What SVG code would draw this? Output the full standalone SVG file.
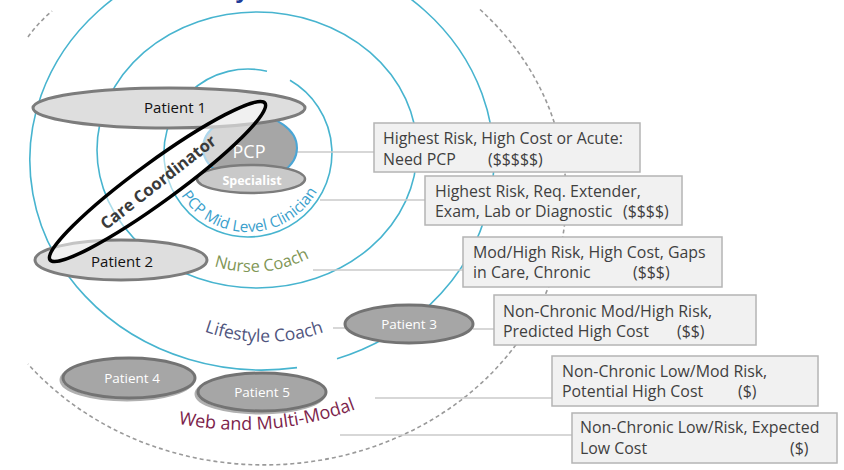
<svg xmlns="http://www.w3.org/2000/svg" width="844" height="470" viewBox="0 0 844 470">
<style>
.ring{fill:none;stroke:#47b4cf;stroke-width:1.6}
.dash{fill:none;stroke:#9a9a9a;stroke-width:1.6;stroke-dasharray:4 3}
.conn{fill:none;stroke:#cacaca;stroke-width:1.5}
.box{fill:#f1f1f1;stroke:#b4b4b4;stroke-width:1.5}
.bt{font-family:"Open Sans","Liberation Sans",sans-serif;font-size:15.9px;fill:#3f3f3f}
.pl{fill:#dedede;stroke:#7c7c7c;stroke-width:3}
.pd{fill:#a6a6a6;stroke:#737373;stroke-width:3}
.sh{fill:none;stroke:#b0b0b0;stroke-width:3}
.ptb{font-family:"Open Sans","Liberation Sans",sans-serif;font-size:15px;fill:#111;text-anchor:middle}
.ptw{font-family:"Open Sans","Liberation Sans",sans-serif;font-size:13.5px;fill:#fff;text-anchor:middle}
.arc{font-family:"Open Sans","Liberation Sans",sans-serif}
</style>
<defs>
<path id="pcpPath" d="M178.2,190.1 A79,79 0 0,0 324.3,173.4"/>
<path id="nursePath" d="M205.6,263 A124,124 0 0,0 323.1,249.6"/>
<path id="lifePath" d="M196.8,328.7 A182,182 0 0,0 341.9,324.9"/>
<path id="webPath" d="M164.6,420.5 A320,320 0 0,0 392.2,392.5"/>
</defs>

<text x="235" y="-2" font-family="Liberation Sans,sans-serif" font-weight="bold" font-size="26" fill="#1f3d99">y</text>

<g id="rings">
<path class="dash" d="M480,9.5 A302,268 0 1,1 28,364"/>
<path class="dash" d="M28,37 Q38,23 52,11"/>
<path class="ring" d="M337,358.7 A232,210 0 1,0 297,367.6"/>
<ellipse class="ring" cx="257" cy="150" rx="160" ry="138"/>
<path class="ring" stroke="#3aa3d0" d="M290,80.3 A84,84 0 1,1 267,71.2"/>
</g>

<g id="connectors">
<path class="conn" d="M293,152 H374"/>
<path class="conn" d="M320,200 H425"/>
<path class="conn" d="M313,270 H463"/>
<path class="conn" d="M333,328 H346"/>
<path class="conn" d="M473,329 H494"/>
<path class="conn" d="M375,398 H552"/>
<path class="conn" d="M340,435 H572"/>
</g>

<g id="ring-labels">
<text class="arc" font-size="15.3" fill="#3aa0cc"><textPath href="#pcpPath" startOffset="6">PCP Mid Level Clinician</textPath></text>
<text class="arc" font-size="16.5" fill="#7f9656"><textPath href="#nursePath" startOffset="9">Nurse Coach</textPath></text>
<text class="arc" font-size="17.5" fill="#50557e"><textPath href="#lifePath" startOffset="8">Lifestyle Coach</textPath></text>
<text class="arc" font-size="18" fill="#7d1f4c"><textPath href="#webPath" startOffset="14">Web and Multi-Modal</textPath></text>
</g>

<g id="pcp">
<ellipse cx="250" cy="148" rx="47" ry="33" fill="#a6a6a6" stroke="#4aa6d6" stroke-width="2"/>
<text x="249" y="158" font-family="Open Sans,Liberation Sans,sans-serif" font-size="18" fill="#fff" text-anchor="middle">PCP</text>
</g>
<g id="specialist">
<ellipse cx="251" cy="179" rx="54" ry="14" fill="#c9c9c9" stroke="#7c7c7c" stroke-width="2.5"/>
<text x="252" y="184.5" font-family="Open Sans,Liberation Sans,sans-serif" font-size="12.5" font-weight="bold" fill="#fff" text-anchor="middle">Specialist</text>
</g>
<g id="patient1">
<ellipse class="pl" cx="169" cy="108" rx="136" ry="20"/>
<text class="ptb" x="175" y="113">Patient 1</text>
</g>
<g id="patient2">
<ellipse class="pl" cx="121" cy="260" rx="86" ry="20"/>
<text class="ptb" x="122" y="267">Patient 2</text>
</g>

<g id="care-coordinator">
<ellipse cx="157.5" cy="181.5" rx="133" ry="20" transform="rotate(-36.1 157.5 181.5)" fill="#fff" fill-opacity="0.55" stroke="#000" stroke-width="3.5"/>
<text transform="translate(158,182) rotate(-38)" x="0" y="6" font-family="Open Sans,Liberation Sans,sans-serif" font-size="16.5" font-weight="bold" fill="#3a3a3a" text-anchor="middle">Care Coordinator</text>
</g>

<g id="patient3">
<ellipse class="pd" cx="409" cy="324" rx="64" ry="19"/>
<text class="ptw" x="409" y="329">Patient 3</text>
</g>
<g id="patient4">
<ellipse class="sh" cx="127" cy="380" rx="66" ry="20"/>
<ellipse class="pd" cx="129" cy="378" rx="66" ry="20"/>
<text class="ptw" x="132" y="383">Patient 4</text>
</g>
<g id="patient5">
<ellipse class="sh" cx="260" cy="394" rx="64" ry="19"/>
<ellipse class="pd" cx="262" cy="392" rx="64" ry="19"/>
<text class="ptw" x="262" y="397">Patient 5</text>
</g>

<g id="box1">
<rect class="box" x="374" y="123" width="266" height="49"/>
<text class="bt" x="383" y="144">Highest Risk, High Cost or Acute:</text>
<text class="bt" y="165"><tspan x="383">Need PCP</tspan><tspan x="488">($$$$$)</tspan></text>
</g>
<g id="box2">
<rect class="box" x="425" y="176" width="257" height="49"/>
<text class="bt" x="435" y="197">Highest Risk, Req. Extender,</text>
<text class="bt" y="217"><tspan x="435">Exam, Lab or Diagnostic</tspan><tspan x="623">($$$$)</tspan></text>
</g>
<g id="box3">
<rect class="box" x="463" y="237" width="259" height="50"/>
<text class="bt" x="473" y="258">Mod/High Risk, High Cost, Gaps</text>
<text class="bt" y="278"><tspan x="473">in Care, Chronic</tspan><tspan x="633">($$$)</tspan></text>
</g>
<g id="box4">
<rect class="box" x="494" y="295" width="262" height="50"/>
<text class="bt" x="503" y="317">Non-Chronic Mod/High Risk,</text>
<text class="bt" y="337"><tspan x="503">Predicted High Cost</tspan><tspan x="677">($$)</tspan></text>
</g>
<g id="box5">
<rect class="box" x="552" y="356" width="266" height="50"/>
<text class="bt" x="562" y="377">Non-Chronic Low/Mod Risk,</text>
<text class="bt" y="397"><tspan x="562">Potential High Cost</tspan><tspan x="738">($)</tspan></text>
</g>
<g id="box6">
<rect class="box" x="572" y="413" width="265" height="50"/>
<text class="bt" x="580" y="433">Non-Chronic Low/Risk, Expected</text>
<text class="bt" y="454"><tspan x="580">Low Cost</tspan><tspan x="790">($)</tspan></text>
</g>
</svg>
